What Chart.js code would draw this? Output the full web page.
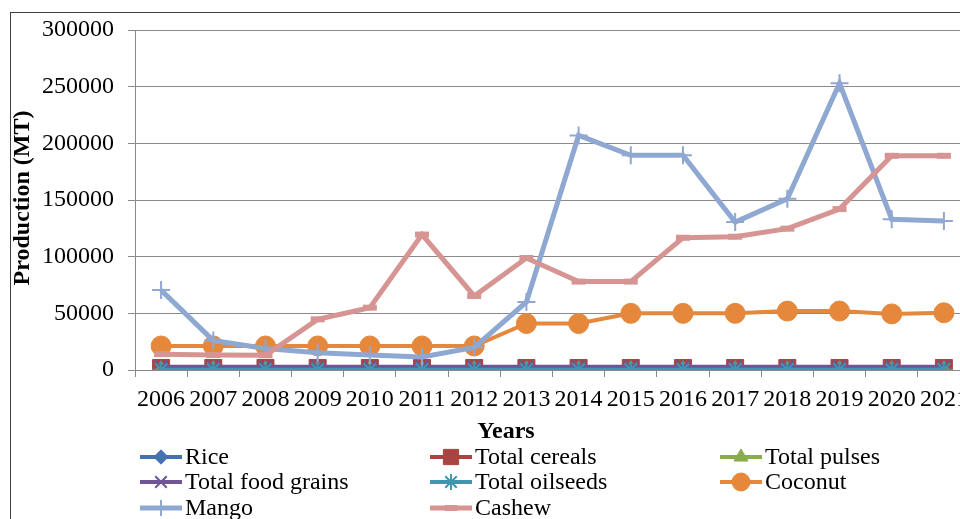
<!DOCTYPE html>
<html>
<head>
<meta charset="utf-8">
<script src="https://cdn.jsdelivr.net/npm/chart.js@4.4.0/dist/chart.umd.min.js"></script>
<style>
  html, body { margin: 0; padding: 0; background: #fff; overflow: hidden; width: 960px; height: 519px; }
  #frame { position: absolute; left: 10px; top: 12px; width: 1000px; height: 560px;
           border-left: 1px solid #404040; border-top: 1px solid #404040; }
  #chart { position: absolute; left: 0; top: 1px; }
</style>
</head>
<body>
<div id="frame"><canvas id="chart" width="972" height="506"></canvas></div>
<script>
const years = ["2006", "2007", "2008", "2009", "2010", "2011", "2012", "2013",
               "2014", "2015", "2016", "2017", "2018", "2019", "2020", "2021"];
const rice        = [1700, 1700, 1700, 1700, 1700, 1700, 1700, 1700, 1700, 1700, 1700, 1700, 1700, 1700, 1700, 1700];
const cereals     = [1800, 1800, 1800, 1800, 1800, 1800, 1800, 1800, 1800, 1800, 1800, 1800, 1800, 1800, 1800, 1800];
const pulses      = [100, 100, 100, 100, 100, 100, 100, 100, 100, 100, 100, 100, 100, 100, 100, 100];
const foodGrains  = [2800, 2800, 2800, 2800, 2800, 2800, 2800, 2800, 2800, 2800, 2800, 2800, 2800, 2800, 2800, 2800];
const oilseeds    = [300, 300, 300, 300, 300, 300, 300, 300, 300, 300, 300, 300, 300, 300, 300, 300];
const coconut     = [21200, 21200, 21200, 21200, 21200, 21200, 21200, 41000, 41000, 50000, 50000, 50000, 52000, 52000, 49500, 50500];
const mango       = [70500, 26000, 19000, 15300, 13200, 11400, 20000, 60000, 207000, 189500, 189500, 130500, 151000, 253000, 133000, 131500];
const cashew      = [14000, 13200, 13000, 44700, 55000, 119500, 65300, 98800, 78000, 78000, 116700, 117600, 124700, 142000, 189000, 189000];
const yTicks      = [0, 50000, 100000, 150000, 200000, 250000, 300000];

const serif = "'Liberation Serif', 'Times New Roman', serif";

const series = [
  { label: "Rice",              data: rice,       color: "#4472B0", style: "rectRot",  r: 8,  bw: 1, lw: 4 },
  { label: "Total cereals",     data: cereals,    color: "#A94442", style: "rect",     r: 12, bw: 1, lw: 4 },
  { label: "Total pulses",      data: pulses,     color: "#8AAD4C", style: "triangle", r: 9,  bw: 1, lw: 4 },
  { label: "Total food grains", data: foodGrains, color: "#6F5595", style: "crossRot", r: 9,  bw: 2, lw: 4 },
  { label: "Total oilseeds",    data: oilseeds,   color: "#3C97B1", style: "star",     r: 9,  bw: 2, lw: 4 },
  { label: "Coconut",           data: coconut,    color: "#E5883C", style: "circle",   r: 10, bw: 1, lw: 4 },
  { label: "Mango",             data: mango,      color: "#8FA8D1", style: "cross",    r: 9,  bw: 2, lw: 5 },
  { label: "Cashew",            data: cashew,     color: "#D69493", style: "line",     r: 7,  bw: 6, lw: 5 }
];

const extras = {
  id: "extras",
  afterDraw(chart) {
    const ctx = chart.ctx;
    const area = chart.chartArea;
    ctx.save();
    ctx.fillStyle = "#000";
    // y axis title
    ctx.font = "bold 24px " + serif;
    ctx.textAlign = "center";
    ctx.textBaseline = "middle";
    ctx.save();
    ctx.translate(12, (area.top + area.bottom) / 2 - 2);
    ctx.rotate(-Math.PI / 2);
    ctx.fillText("Production (MT)", 0, 0);
    ctx.restore();
    // x axis title
    ctx.fillText("Years", 495, 418);
    // legend
    const cols = [129, 419, 709];
    const rows = [443, 468, 494];
    ctx.font = "24px " + serif;
    ctx.textAlign = "left";
    series.forEach((s, i) => {
      const x = cols[i % 3], y = rows[Math.floor(i / 3)];
      ctx.strokeStyle = s.color;
      ctx.fillStyle = s.color;
      ctx.lineWidth = s.lw;
      ctx.beginPath();
      ctx.moveTo(x, y);
      ctx.lineTo(x + 42, y);
      ctx.stroke();
      ctx.lineWidth = s.bw;
      Chart.helpers.drawPoint(ctx, { pointStyle: s.style, radius: s.r * 0.9, rotation: 0, borderWidth: s.bw }, x + 21, y);
      ctx.fillStyle = "#000";
      ctx.fillText(s.label, x + 45, y + 1);
    });
    ctx.restore();
  }
};

new Chart(document.getElementById("chart"), {
  type: "line",
  data: {
    labels: years,
    datasets: series.map((s, i) => ({
      label: s.label,
      data: s.data,
      borderColor: s.color,
      backgroundColor: s.color,
      borderWidth: s.lw,
      pointStyle: s.style,
      pointRadius: s.r,
      pointBorderWidth: s.bw,
      pointBackgroundColor: s.color,
      pointBorderColor: s.color,
      tension: 0,
      order: series.length - i
    }))
  },
  options: {
    responsive: false,
    animation: false,
    devicePixelRatio: 1,
    layout: { padding: { left: 0, right: 0, top: 16, bottom: 100 } },
    plugins: { legend: { display: false }, tooltip: { enabled: false } },
    scales: {
      x: {
        offset: true,
        grid: { offset: true, drawOnChartArea: false, drawTicks: true, tickLength: 7, color: "#8a8a8a" },
        border: { color: "#8a8a8a" },
        ticks: { font: { family: serif, size: 24 }, color: "#000", padding: 8, maxRotation: 0, autoSkip: false },
        afterFit: s => { s.height = 50; }
      },
      y: {
        min: 0,
        max: 300000,
        afterBuildTicks: s => { s.ticks = yTicks.map(v => ({ value: v })); },
        grid: { color: "#8a8a8a", tickLength: 7 },
        border: { color: "#8a8a8a" },
        ticks: { font: { family: serif, size: 24 }, color: "#000", padding: 14, callback: v => String(v) },
        afterFit: s => { s.width = 124; s.paddingTop = 0; s.paddingBottom = 0; }
      }
    }
  },
  plugins: [extras]
});
</script>
</body>
</html>
